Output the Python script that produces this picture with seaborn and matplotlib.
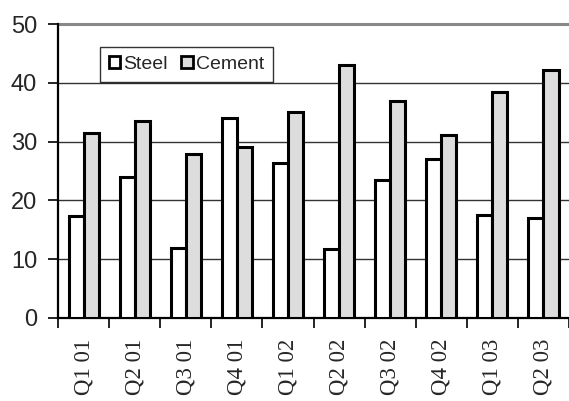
import pandas as pd
import matplotlib
matplotlib.use("Agg")
import matplotlib.pyplot as plt
import seaborn as sns
from matplotlib.ticker import FixedLocator

quarters = ["Q1 01", "Q2 01", "Q3 01", "Q4 01", "Q1 02",
            "Q2 02", "Q3 02", "Q4 02", "Q1 03", "Q2 03"]
steel = [17.3, 24.0, 11.9, 34.0, 26.4, 11.7, 23.4, 27.0, 17.5, 17.0]
cement = [31.5, 33.5, 27.9, 29.1, 35.0, 43.0, 36.9, 31.1, 38.4, 42.2]
series = ["Steel", "Cement"]
colors = ["white", "#dddddd"]

df = pd.DataFrame({
    "quarter": quarters * 2,
    "value": steel + cement,
    "series": ["Steel"] * len(quarters) + ["Cement"] * len(quarters),
})

sns.set_style("white")
plt.rcParams["font.family"] = ["Liberation Sans", "DejaVu Sans"]

fig = plt.figure(figsize=(5.69, 4.01), dpi=100)
ax = fig.add_axes([0.102, 0.207, 0.898, 0.733])

sns.barplot(data=df, x="quarter", y="value", hue="series", hue_order=series,
            palette=colors, edgecolor="black", linewidth=2.2, width=0.59,
            saturation=1, ax=ax, zorder=3)

ax.set_xlim(-0.5, 9.5)
ax.set_ylim(0, 50)
ax.set_yticks([0, 10, 20, 30, 40, 50])
ax.set_xlabel("")
ax.set_ylabel("")

# gridlines
for v in [10, 20, 30, 40]:
    ax.axhline(v, color="#333333", lw=1.0, zorder=1)
ax.axhline(50, color="#888888", lw=2.2, zorder=1, clip_on=False)

for s in ["top", "right"]:
    ax.spines[s].set_visible(False)
for s in ["left", "bottom"]:
    ax.spines[s].set_color("black")
    ax.spines[s].set_linewidth(1.6)

ax.tick_params(axis="y", which="major", direction="out", length=7, width=1.2,
               color="black", labelsize=17, pad=8, left=True)
# x ticks at category boundaries
ax.xaxis.set_minor_locator(FixedLocator([i - 0.5 for i in range(len(quarters) + 1)]))
ax.tick_params(axis="x", which="minor", direction="out", length=7, width=1.2,
               color="black", bottom=True)
ax.tick_params(axis="x", which="major", length=0, pad=15)
for lbl in ax.get_xticklabels():
    lbl.set_rotation(90)
    lbl.set_fontfamily(["Liberation Serif", "DejaVu Serif"])
    lbl.set_fontsize(16.5)

leg = ax.legend(loc="upper left", bbox_to_anchor=(0.082, 0.922), ncol=2,
                borderaxespad=0, fancybox=False, frameon=True, edgecolor="black",
                fontsize=14, handlelength=0.6, handleheight=0.6,
                handletextpad=0.15, columnspacing=0.7, borderpad=0.45)
leg.get_frame().set_linewidth(1.0)
for h in leg.legend_handles:
    h.set_linewidth(2.0)

fig.savefig("out.png", dpi=100)
